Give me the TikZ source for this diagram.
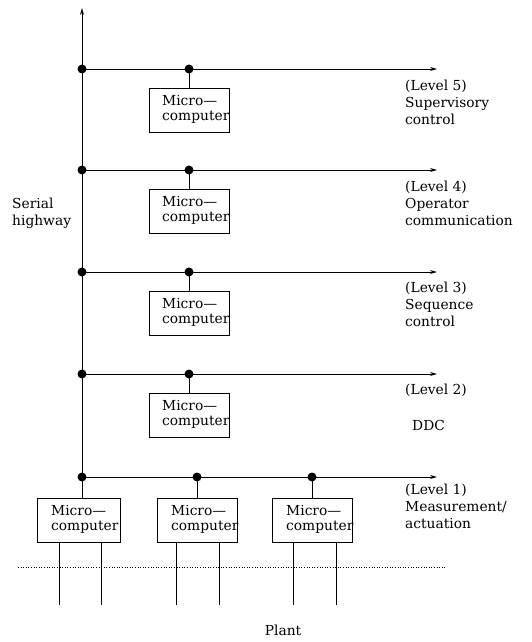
\documentclass[tikz,border=0pt]{standalone}
\usepackage{fontspec}
\setmainfont{DejaVu Serif}
\usetikzlibrary{arrows.meta}
\begin{document}
\begin{tikzpicture}[x=1pt,y=-1pt,
  mc/.style={draw,line width=0.9pt,minimum width=80pt,minimum height=44pt,inner sep=0pt,anchor=north west},
  mctext/.style={anchor=west,align=left,font=\fontsize{13.8}{15.5}\selectfont,inner sep=0pt},
  lbl/.style={anchor=north west,align=left,font=\fontsize{13.8}{17}\selectfont,inner sep=0pt},
  bus/.style={line width=0.9pt,-{Stealth[length=7pt,width=4pt]}},
  wire/.style={line width=0.8pt},
  dot/.style={circle,fill,inner sep=0pt,minimum size=9pt},
  thin/.style={line width=0.6pt}]
\useasboundingbox (0,0) rectangle (532,642);
% junctions on the serial highway
\foreach \n/\y in {5/69,4/170,3/272,2/374,1/477}{
  \node[dot] (j\n) at (82,\y) {};
  \coordinate (e\n) at (437,\y);
}
\coordinate (top) at (82,8);
\draw[bus] (j1.center) -- (top);
\foreach \n in {5,4,3,2,1}{ \draw[bus] (j\n.center) -- (e\n); }
% upper level computers
\foreach \n/\y in {5/69,4/170,3/272,2/374}{
  \node[dot] (d\n) at (189,\y) {};
  \node[mc] (b\n) at (149,\y+19) {};
  \node[mctext] (t\n) at ([xshift=13pt,yshift=1pt]b\n.west) {Micro—\\computer};
  \draw[wire] (d\n.center) -- (b\n.north -| d\n);
}
% level 1 computers
\node[dot] (k2) at (197,477) {};
\node[dot] (k3) at (312,477) {};
\node[mc,minimum width=83pt] (c1) at (37,498) {};
\node[mc] (c2) at (157,498) {};
\node[mc] (c3) at (272,498) {};
\foreach \n in {1,2,3}{ \node[mctext] (u\n) at ([xshift=14pt,yshift=1pt]c\n.west) {Micro—\\computer}; }
\draw[wire] (j1.center) -- (c1.north -| j1);
\draw[wire] (k2.center) -- (c2.north -| k2);
\draw[wire] (k3.center) -- (c3.north -| k3);
% plant lines
\foreach \c/\a/\b in {1/59/101,2/176/219,3/293/336}{
  \coordinate (pa\c) at (\a,605);
  \coordinate (pb\c) at (\b,605);
  \draw[thin] (c\c.south -| pa\c) -- (pa\c);
  \draw[thin] (c\c.south -| pb\c) -- (pb\c);
}
\coordinate (dl) at (18,567);
\coordinate (dr) at (445,567);
\draw[thin,dotted] (dl) -- (dr);
\node[font=\fontsize{13.8}{16}\selectfont] (plant) at (283,630) {Plant};
% labels
\node[lbl] (s) at (12,198) {Serial\\highway};
\node[lbl] (l5) at (405,80) {(Level 5)\\Supervisory\\control};
\node[lbl] (l4) at (405,181) {(Level 4)\\Operator\\communication};
\node[lbl] (l3) at (405,282) {(Level 3)\\Sequence\\control};
\node[lbl] (l2) at (405,384) {(Level 2)};
\node[lbl] (l2b) at (412,420) {DDC};
\node[lbl] (l1) at (405,484) {(Level 1)\\Measurement/\\actuation};
\end{tikzpicture}
\end{document}
